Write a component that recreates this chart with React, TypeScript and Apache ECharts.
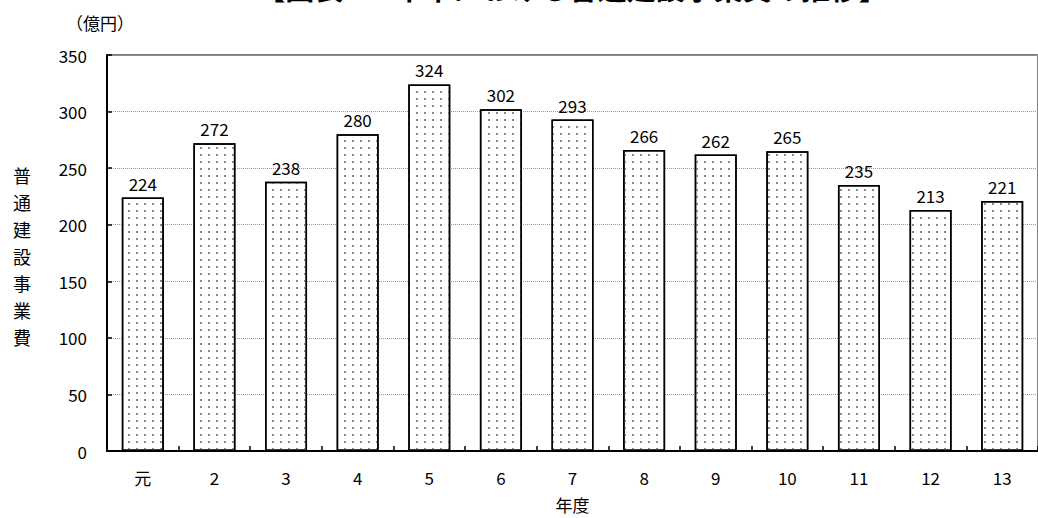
import React, { useEffect, useRef } from "react";
import * as echarts from "echarts";

const categories = ["元", "2", "3", "4", "5", "6", "7", "8", "9", "10", "11", "12", "13"];
const values = [224, 272, 238, 280, 324, 302, 293, 266, 262, 265, 235, 213, 221];
const yMin = 0;
const yMax = 350;
const yStep = 50;
const titleText = "【図表2-1 本市における普通建設事業費の推移】";
const unitText = "（億円）";
const yTitle = "普通建設事業費";
const xTitle = "年度";

const FONT = "'Noto Sans CJK JP', 'Liberation Sans', sans-serif";

export default function App() {
  const ref = useRef<HTMLDivElement>(null);
  useEffect(() => {
    if (!ref.current) return;
    const chart = echarts.init(ref.current, null, { renderer: "svg" });
    chart.setOption({
      animation: false,
      backgroundColor: "#fff",
      textStyle: { fontFamily: FONT },
      grid: {
        left: 107,
        top: 55,
        width: 939,
        height: 400,
        show: true,
        borderColor: "#000",
        borderWidth: 1,
        backgroundColor: "transparent",
      },
      xAxis: {
        type: "category",
        data: categories,
        boundaryGap: true,
        axisLine: { show: true, lineStyle: { color: "#000", width: 2 } },
        axisTick: { show: true, inside: true, length: 5, alignWithLabel: false, lineStyle: { color: "#000", width: 1.5 } },
        axisLabel: { color: "#000", fontSize: 17, fontFamily: FONT, margin: 18 },
        splitLine: { show: false },
        name: xTitle,
        nameLocation: "middle",
        nameGap: 45,
        nameTextStyle: { color: "#000", fontSize: 17, fontFamily: FONT },
      },
      yAxis: {
        type: "value",
        min: yMin,
        max: yMax,
        interval: yStep,
        axisLine: { show: true, lineStyle: { color: "#000", width: 2 } },
        axisTick: { show: true, inside: true, length: 5, lineStyle: { color: "#000", width: 1.5 } },
        axisLabel: { color: "#000", fontSize: 17, fontFamily: FONT, margin: 20 },
        splitLine: { show: true, lineStyle: { color: "#999", width: 1, type: "dotted" } },
      },
      graphic: [
        {
          type: "text",
          x: 572,
          y: 1,
          style: {
            text: titleText,
            fill: "#000",
            font: `bold 29px ${FONT}`,
            align: "center",
            verticalAlign: "bottom",
          },
        },
        {
          type: "text",
          x: 100,
          y: 22,
          style: {
            text: unitText,
            fill: "#000",
            font: `17px ${FONT}`,
            align: "center",
            verticalAlign: "middle",
          },
        },
        {
          type: "text",
          x: 22,
          y: 256,
          style: {
            text: yTitle.split("").join("\n"),
            fill: "#000",
            font: `18px ${FONT}`,
            lineHeight: 27,
            align: "center",
            verticalAlign: "middle",
          },
        },
      ],
      series: [
        {
          type: "bar",
          data: values,
          barWidth: 42,
          itemStyle: {
            color: "#fff",
            borderColor: "#000",
            borderWidth: 1.5,
            decal: {
              symbol: "rect",
              symbolSize: 1,
              color: "#888",
              dashArrayX: [1.5, 5.5],
              dashArrayY: [1.5, 5],
              rotation: 0,
            },
          },
          label: {
            show: true,
            position: "top",
            distance: 6,
            color: "#000",
            fontSize: 17,
            fontFamily: FONT,
          },
        },
      ],
    });
    return () => chart.dispose();
  }, []);
  return (
    <div
      ref={ref}
      style={{ position: "absolute", left: 0, top: 0, width: 1038, height: 518 }}
    />
  );
}
